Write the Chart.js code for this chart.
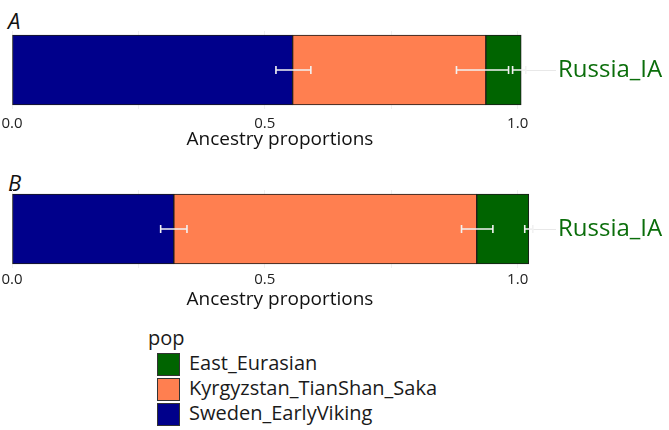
<!DOCTYPE html>
<html><head><meta charset="utf-8">
<script src="https://cdn.jsdelivr.net/npm/chart.js@4/dist/chart.umd.min.js"></script>
<style>
body{margin:0;width:669px;height:430px;background:#fff;position:relative;overflow:hidden;font-family:"Open Sans",sans-serif;color:#1a1a1a;}
canvas{position:absolute;left:0;}
.plab{position:absolute;left:8px;font-style:italic;font-size:22px;line-height:22px;color:#111;}
#legend{position:absolute;left:148px;top:329px;font-size:20px;}
#legend .t{position:absolute;left:0;top:-2px;line-height:22px;}
#legend .row{position:absolute;left:9px;height:23px;line-height:23px;white-space:nowrap;}
#legend .sw{position:absolute;left:0;top:0;width:23px;height:23px;box-sizing:border-box;border:1px solid #333;}
#legend .tx{position:absolute;left:32px;top:-2px;}
</style></head>
<body>
<div class="plab" style="top:9px">A</div>
<div class="plab" style="top:171px">B</div>
<canvas id="cA" width="669" height="120" style="top:31px"></canvas>
<canvas id="cB" width="669" height="121" style="top:190px"></canvas>
<div id="legend"></div>
<script>
const categories = ["Russia_IA"];
const sources = ["Sweden_EarlyViking", "Kyrgyzstan_TianShan_Saka", "East_Eurasian"];
const sourceColors = ["#00008B", "#FF7F50", "#006400"];
const xTicks = [0, 0.25, 0.5, 0.75, 1.0];
const xTickLabels = ["0.0", "", "0.5", "", "1.0"];

// Panel A proportions (per source)
const propsA = [0.555, 0.382, 0.070];
const errLowA = [0.522, 0.879, 0.990];
const errHighA = [0.591, 0.982, 1.016];

// Panel B proportions (per source)
const propsB = [0.320, 0.599, 0.103];
const errLowB = [0.294, 0.889, 1.014];
const errHighB = [0.346, 0.951, 1.030];

const errPlugin = {
  id: 'errbars',
  afterDatasetsDraw(chart, args, opts) {
    const ctx = chart.ctx, xs = chart.scales.x, ys = chart.scales.y;
    const y = ys.getPixelForValue(0);
    ctx.save();
    ctx.strokeStyle = '#f2f2f2';
    ctx.lineWidth = 1.6;
    opts.low.forEach((lo, i) => {
      const x1 = xs.getPixelForValue(lo), x2 = xs.getPixelForValue(opts.high[i]);
      ctx.beginPath();
      ctx.moveTo(x1, y); ctx.lineTo(x2, y);
      ctx.moveTo(x1, y - 4); ctx.lineTo(x1, y + 4);
      ctx.moveTo(x2, y - 4); ctx.lineTo(x2, y + 4);
      ctx.stroke();
    });
    ctx.restore();
  }
};

function makeChart(id, props, lo, hi, axisH, tickPad) {
  return new Chart(document.getElementById(id), {
    type: 'bar',
    data: {
      labels: categories,
      datasets: sources.map((s, i) => ({
        label: s,
        data: [props[i]],
        backgroundColor: sourceColors[i],
        borderColor: '#1a1a1a',
        borderWidth: 1,
        borderSkipped: false,
        barThickness: 70
      }))
    },
    options: {
      indexAxis: 'y',
      responsive: false,
      animation: false,
      devicePixelRatio: 1,
      layout: { padding: { left: 12, right: 0, top: 0, bottom: 0 } },
      plugins: { legend: { display: false }, tooltip: { enabled: false }, errbars: { low: lo, high: hi } },
      scales: {
        x: {
          stacked: true, min: 0, max: 1.06,
          afterBuildTicks: s => { s.ticks = xTicks.map(v => ({ value: v })); },
          afterFit: s => { s.height = axisH; s.paddingLeft = 0; s.paddingRight = 0; },
          ticks: { autoSkip: false, maxRotation: 0, padding: tickPad, color: '#222',
                   font: { family: 'Open Sans', size: 15 },
                   callback: (v, i) => xTickLabels[i] },
          grid: { color: '#f0f0f0', drawTicks: false },
          border: { display: false },
          title: { display: true, text: 'Ancestry proportions', color: '#111',
                   font: { family: 'Open Sans', size: 19 }, padding: { top: 0, bottom: 0 } }
        },
        y: {
          stacked: true, position: 'right',
          afterFit: s => { s.width = 121; s.paddingTop = 0; s.paddingBottom = 0; },
          ticks: { color: '#0b6e0b', font: { family: 'Open Sans', size: 24 }, padding: 2 },
          grid: { offset: false, color: '#e8e8e8', tickLength: 8 },
          border: { display: false }
        }
      }
    },
    plugins: [errPlugin]
  });
}
makeChart('cA', propsA, errLowA, errHighA, 42, 6);
makeChart('cB', propsB, errLowB, errHighB, 43, 3);

// legend (reverse order as in reference)
const lg = document.getElementById('legend');
lg.innerHTML = '<div class="t">pop</div>';
[2, 1, 0].forEach((k, r) => {
  const d = document.createElement('div');
  d.className = 'row';
  d.style.top = (24 + r * 25) + 'px';
  d.innerHTML = '<div class="sw" style="background:' + sourceColors[k] + '"></div><div class="tx">' + sources[k] + '</div>';
  lg.appendChild(d);
});
</script>
</body></html>
